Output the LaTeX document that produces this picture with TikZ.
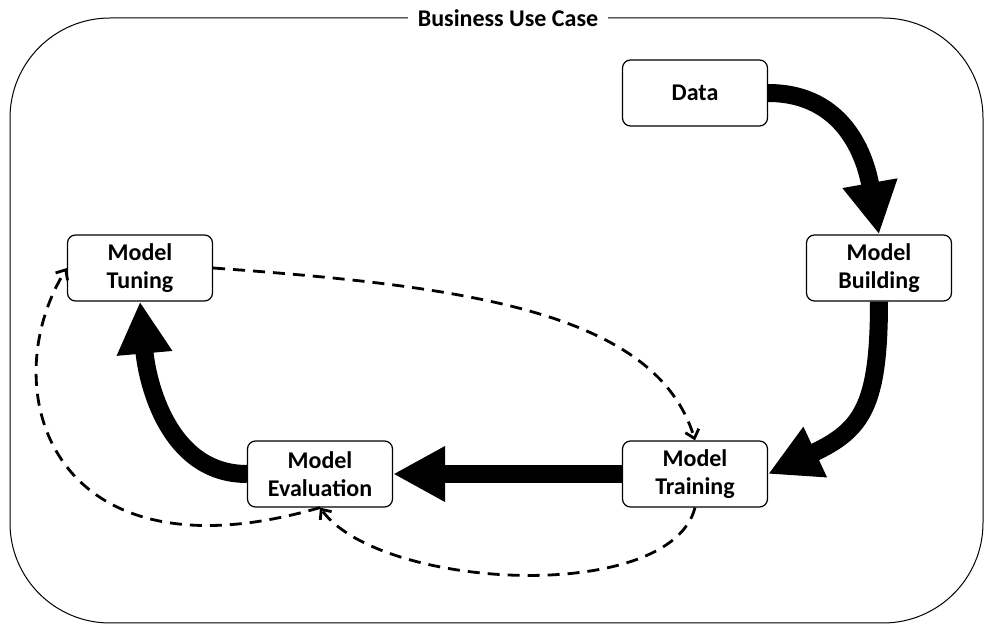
\documentclass[tikz,border=0pt]{standalone}
\usepackage{fontspec}
\setmainfont{Carlito}
\usetikzlibrary{arrows.meta}

\begin{document}
\begin{tikzpicture}[x=0.5pt, y=0.5pt,
  box/.style={draw, fill=white, rounded corners=4pt, line width=0.6pt,
    minimum width=72.5pt, minimum height=33pt, inner sep=0pt, align=center,
    font=\bfseries\fontsize{12}{14}\selectfont},
  bigarrow/.style={line width=9pt, -{Triangle[length=26pt, width=26pt]}},
  feedback/.style={line width=1.4pt, dash pattern=on 6pt off 4pt,
    -{Straight Barb[length=4pt, width=7pt]}}]
  \useasboundingbox (0,0) rectangle (993,627);
  \draw [line width=0.5pt, rounded corners=50pt] (10,4) rectangle (983,609);
  \node [fill=white, inner xsep=5pt, font=\bfseries\fontsize{12}{14}\selectfont]
    (usecase) at (508,609) {Business Use Case};

  \node [box] (data) at (695,534) {Data};
  \node [box] (building) at (879,359) {Model\\Building};
  \node [box] (tuning) at (140,359) {Model\\Tuning};
  \node [box] (evaluation) at (320,153) {Model\\Evaluation};
  \node [box] (training) at (695,153) {Model\\Training};

  \draw [bigarrow] (data.east) to[out=0, in=100, looseness=1.1] (building.north);
  \draw [bigarrow] (building.south) to[out=-90, in=25, looseness=1.3] (training.east);
  \draw [bigarrow] (training.west) -- (evaluation.east);
  \draw [bigarrow] (evaluation.west) to[out=180, in=-85] (tuning.south);

  \draw [feedback] (tuning.east) .. controls (463,341) and (656,316) .. (training.north);
  \draw [feedback] (training.south) .. controls (670,22) and (380,37) .. (evaluation.south);
  \draw [feedback] (evaluation.south) .. controls (50,41) and (-8,238) .. (tuning.west);
\end{tikzpicture}
\end{document}
